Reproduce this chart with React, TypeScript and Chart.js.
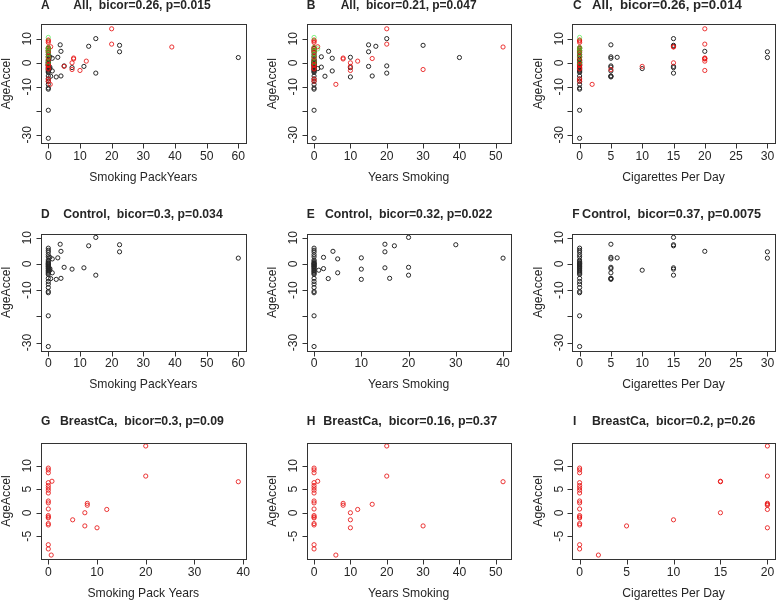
import React, { useEffect, useRef } from 'react';
import { Chart, registerables } from 'chart.js';

Chart.register(...registerables);

// ---------------- data ----------------
// Control group (smokers first, then never-smokers)
const controlPackYears = [15, 3.75, 22.5, 12.75, 22.5, 4, 60, 3, 0.5, 1.25, 5, 11.25, 0.5, 7.5, 0.5, 15, 4, 2.5, 0.75, 1.25,
  0, 0, 0, 0, 0, 0, 0, 0, 0, 0, 0, 0, 0, 0, 0, 0, 0, 0, 0, 0, 0, 0, 0, 0, 0, 0, 0, 0, 0, 0];
const controlYearsSmoking = [20, 15, 30, 17, 15, 4, 40, 10, 2, 5, 20, 15, 2, 10, 1, 20, 16, 10, 3, 5,
  0, 0, 0, 0, 0, 0, 0, 0, 0, 0, 0, 0, 0, 0, 0, 0, 0, 0, 0, 0, 0, 0, 0, 0, 0, 0, 0, 0, 0, 0];
const controlCigsPerDay = [15, 5, 15, 15, 30, 20, 30, 6, 5, 5, 5, 15, 5, 15, 10, 15, 5, 5, 5, 5,
  0, 0, 0, 0, 0, 0, 0, 0, 0, 0, 0, 0, 0, 0, 0, 0, 0, 0, 0, 0, 0, 0, 0, 0, 0, 0, 0, 0, 0, 0];
const controlAgeAccel = [10.1, 7.5, 7.3, 6.9, 4.6, 4.8, 2.2, 2.3, 2.5, 1.9, -1.3, -1.5, -1.8, -2.0, -2.4, -4.3, -5.5, -5.9, -5.6, -3.4,
  6.0, 5.2, 4.5, 3.5, 2.7, 1.5, 1.0, 0.5, 0.2, 0, -0.2, -0.5, -0.8, -1.0, -1.3, -1.7, -2.0, -2.5, -2.8, -3.2,
  -3.6, -4.0, -5.5, -6.7, -7.7, -9.0, -10.5, -11.0, -19.8, -31.5];

// Breast cancer group (null = value not available)
const breastPackYears = [0.75, 39, 0.6, 7.5, 7.5, 5, 10, 12, 20, 20, 8, 8, null,
  0, 0, 0, 0, 0, 0, 0, 0, 0, 0, 0, 0, 0, 0, 0, 0, 0, 0];
const breastYearsSmoking = [1, 52, 6, 30, 10, 10, 10, 12, 20, 20, 8, 8, 16,
  0, 0, 0, 0, 0, 0, 0, 0, 0, 0, 0, 0, 0, 0, 0, 0, 0, 0];
const breastCigsPerDay = [15, 15, 2, 5, 15, 10, 20, 20, 20, 20, 20, 20, 20,
  0, 0, 0, 0, 0, 0, 0, 0, 0, 0, 0, 0, 0, 0, 0, 0, 0, 0];
const breastAgeAccel = [6.7, 6.6, -9.0, -2.8, 0.0, -1.5, -3.2, 0.7, 14.2, 7.8, 2.0, 1.6, 1.8,
  9.5, 9.1, 8.5, 6.4, 5.8, 5.3, 4.8, 4.2, 2.5, 2.1, 0.8, -0.6, -0.9, -1.1, -2.3, -2.6, -6.8, -7.7];

// Third group (only in "All" panels)
const otherPackYears = [0, 0, 0, 0, 0, 0, 0];
const otherYearsSmoking = [0, 0, 0, 0, 0, 0, 1];
const otherCigsPerDay = [0, 0, 0, 0, 0, 0, 0];
const otherAgeAccel = [10.6, 6.4, 5.0, 3.6, 2.2, 0.1, 5.8];

// tick values
const packTicks60 = [0, 10, 20, 30, 40, 50, 60];
const packTicks40 = [0, 10, 20, 30, 40];
const yearsTicks50 = [0, 10, 20, 30, 40, 50];
const yearsTicks40 = [0, 10, 20, 30, 40];
const cigsTicks30 = [0, 5, 10, 15, 20, 25, 30];
const cigsTicks20 = [0, 5, 10, 15, 20];
const ageTicksWide = [-30, -20, -10, 0, 10];
const ageTicksNarrow = [-5, 0, 5, 10];

// ---------------- styles / layout ----------------
const FONT = '"Liberation Sans", Arial, Helvetica, sans-serif';
const AXIS_FONT_SIZE = 13.5;
const AXIS_FONT_SX = 0.9; // horizontal squeeze of axis text
const TEXT_COLOR = '#262626';
const AXIS_COLOR = '#333333';
const COL_CONTROL = '#262626';
const COL_BREAST = 'rgba(232,20,20,0.85)';
const COL_OTHER = 'rgba(40,230,40,0.55)';
const TICK_LEN = 5;

const colBox = [
  { left: 40.7, right: 245.9 },
  { left: 306.5, right: 510.6 },
  { left: 572.1, right: 776.3 },
];
const rowBox = [
  { top: 24, bottom: 143.3, titleY: 5.8 },
  { top: 234, bottom: 350.7, titleY: 214.5 },
  { top: 442.7, bottom: 559.3, titleY: 422 },
];

type Group = { pack: (number | null)[]; years: number[]; cigs: number[]; age: number[]; color: string };
const control: Group = { pack: controlPackYears, years: controlYearsSmoking, cigs: controlCigsPerDay, age: controlAgeAccel, color: COL_CONTROL };
const breast: Group = { pack: breastPackYears, years: breastYearsSmoking, cigs: breastCigsPerDay, age: breastAgeAccel, color: COL_BREAST };
const other: Group = { pack: otherPackYears, years: otherYearsSmoking, cigs: otherCigsPerDay, age: otherAgeAccel, color: COL_OTHER };

type Panel = {
  letter: string; title: string; textLeft: number; textRight: number; letterX: number;
  row: number; col: number; groups: Group[]; key: 'pack' | 'years' | 'cigs';
  xLabel: string; xMin: number; xMax: number; xTicks: number[];
  yMin: number; yMax: number; yTicks: number[];
};

const panels: Panel[] = [
  { letter: 'A', title: 'All,  bicor=0.26, p=0.015', letterX: 41, textLeft: 73.3, textRight: 210.7, row: 0, col: 0, groups: [other, breast, control], key: 'pack', xLabel: 'Smoking PackYears', xMin: -2.4, xMax: 62.4, xTicks: packTicks60, yMin: -33.6, yMax: 16.2, yTicks: ageTicksWide },
  { letter: 'B', title: 'All,  bicor=0.21, p=0.047', letterX: 306.7, textLeft: 340.7, textRight: 476.7, row: 0, col: 1, groups: [other, breast, control], key: 'years', xLabel: 'Years Smoking', xMin: -2.08, xMax: 54.08, xTicks: yearsTicks50, yMin: -33.6, yMax: 16.2, yTicks: ageTicksWide },
  { letter: 'C', title: 'All,  bicor=0.26, p=0.014', letterX: 573, textLeft: 592, textRight: 742, row: 0, col: 2, groups: [other, breast, control], key: 'cigs', xLabel: 'Cigarettes Per Day', xMin: -1.2, xMax: 31.2, xTicks: cigsTicks30, yMin: -33.6, yMax: 16.2, yTicks: ageTicksWide },
  { letter: 'D', title: 'Control,  bicor=0.3, p=0.034', letterX: 41, textLeft: 63.3, textRight: 222.7, row: 1, col: 0, groups: [control], key: 'pack', xLabel: 'Smoking PackYears', xMin: -2.4, xMax: 62.4, xTicks: packTicks60, yMin: -33.1, yMax: 11.4, yTicks: ageTicksWide },
  { letter: 'E', title: 'Control,  bicor=0.32, p=0.022', letterX: 306.7, textLeft: 325, textRight: 492.3, row: 1, col: 1, groups: [control], key: 'years', xLabel: 'Years Smoking', xMin: -1.6, xMax: 41.6, xTicks: yearsTicks40, yMin: -33.1, yMax: 11.4, yTicks: ageTicksWide },
  { letter: 'F', title: 'Control,  bicor=0.37, p=0.0075', letterX: 572.3, textLeft: 582, textRight: 761.3, row: 1, col: 2, groups: [control], key: 'cigs', xLabel: 'Cigarettes Per Day', xMin: -1.2, xMax: 31.2, xTicks: cigsTicks30, yMin: -33.1, yMax: 11.4, yTicks: ageTicksWide },
  { letter: 'G', title: 'BreastCa,  bicor=0.3, p=0.09', letterX: 41, textLeft: 60, textRight: 224, row: 2, col: 0, groups: [breast], key: 'pack', xLabel: 'Smoking Pack Years', xMin: -1.56, xMax: 40.56, xTicks: packTicks40, yMin: -9.9, yMax: 14.9, yTicks: ageTicksNarrow },
  { letter: 'H', title: 'BreastCa,  bicor=0.16, p=0.37', letterX: 306.7, textLeft: 323.3, textRight: 497.3, row: 2, col: 1, groups: [breast], key: 'years', xLabel: 'Years Smoking', xMin: -2.08, xMax: 54.08, xTicks: yearsTicks50, yMin: -9.9, yMax: 14.9, yTicks: ageTicksNarrow },
  { letter: 'I', title: 'BreastCa,  bicor=0.2, p=0.26', letterX: 573, textLeft: 592, textRight: 755.3, row: 2, col: 2, groups: [breast], key: 'cigs', xLabel: 'Cigarettes Per Day', xMin: -0.8, xMax: 20.8, xTicks: cigsTicks20, yMin: -9.9, yMax: 14.9, yTicks: ageTicksNarrow },
];

const W = 778;
const H = 601;

function points(g: Group, key: 'pack' | 'years' | 'cigs') {
  const xs = g[key] as (number | null)[];
  const out: { x: number; y: number }[] = [];
  for (let i = 0; i < xs.length; i++) {
    const x = xs[i];
    if (x === null || x === undefined) continue;
    out.push({ x, y: g.age[i] });
  }
  return out;
}

// draw centred text, squeezed horizontally along its own direction
function axisText(ctx: CanvasRenderingContext2D, s: string, x: number, y: number, rotated: boolean) {
  ctx.save();
  ctx.translate(x, y);
  if (rotated) ctx.rotate(-Math.PI / 2);
  ctx.scale(AXIS_FONT_SX, 1);
  ctx.fillText(s, 0, 0);
  ctx.restore();
}

function drawPanel(chart: any, p: Panel) {
  const ctx: CanvasRenderingContext2D = chart.ctx;
  const { left, right, top, bottom } = chart.chartArea;
  const xs = chart.scales.x;
  const ys = chart.scales.y;
  const L = Math.round(left) + 0.5;
  const R = Math.round(right) + 0.5;
  const T = Math.round(top) + 0.5;
  const B = Math.round(bottom) + 0.5;
  ctx.save();
  ctx.strokeStyle = AXIS_COLOR;
  ctx.lineWidth = 1;
  ctx.strokeRect(L, T, R - L, B - T);
  ctx.beginPath();
  for (const v of p.xTicks) {
    const px = Math.round(xs.getPixelForValue(v)) + 0.5;
    ctx.moveTo(px, B);
    ctx.lineTo(px, B + TICK_LEN);
  }
  for (const v of p.yTicks) {
    const py = Math.round(ys.getPixelForValue(v)) + 0.5;
    ctx.moveTo(L, py);
    ctx.lineTo(L - TICK_LEN, py);
  }
  ctx.stroke();

  ctx.fillStyle = TEXT_COLOR;
  ctx.font = `${AXIS_FONT_SIZE}px ${FONT}`;
  ctx.textAlign = 'center';
  ctx.textBaseline = 'middle';
  const gap = ctx.measureText('m').width * AXIS_FONT_SX;
  // x tick labels
  let lastRight = -Infinity;
  for (const v of p.xTicks) {
    const s = String(v);
    const w = ctx.measureText(s).width * AXIS_FONT_SX;
    const px = xs.getPixelForValue(v);
    if (px - w / 2 < lastRight + gap) continue;
    axisText(ctx, s, px, bottom + 13, false);
    lastRight = px + w / 2;
  }
  // y tick labels (parallel to axis), skipping overlapping ones like R
  let lastTop = Infinity;
  const ySorted = [...p.yTicks].sort((a, b) => a - b);
  for (const v of ySorted) {
    const s = String(v);
    const w = ctx.measureText(s).width * AXIS_FONT_SX;
    const py = ys.getPixelForValue(v);
    if (py + w / 2 > lastTop - gap) continue;
    axisText(ctx, s, left - 13, py, true);
    lastTop = py - w / 2;
  }
  // axis titles
  axisText(ctx, p.xLabel, (left + right) / 2, bottom + 34, false);
  axisText(ctx, 'AgeAccel', left - 34, (top + bottom) / 2, true);

  // panel title
  const ty = rowBox[p.row].titleY;
  ctx.textAlign = 'left';
  ctx.font = `bold 12px ${FONT}`;
  ctx.fillText(p.letter, p.letterX, ty);
  const w12 = ctx.measureText(p.title).width;
  const size = Math.max(10, Math.min(14, (12 * (p.textRight - p.textLeft)) / w12));
  ctx.font = `bold ${size.toFixed(2)}px ${FONT}`;
  ctx.fillText(p.title, p.textLeft, ty);
  ctx.restore();
}

function PanelChart({ p }: { p: Panel }) {
  const ref = useRef<HTMLCanvasElement>(null);
  useEffect(() => {
    const canvas = ref.current;
    if (!canvas) return;
    const cb = colBox[p.col];
    const rb = rowBox[p.row];
    const chart = new Chart(canvas, {
      type: 'scatter',
      data: {
        datasets: p.groups.map((g) => ({
          data: points(g, p.key),
          pointRadius: 2.1,
          pointHoverRadius: 2.1,
          pointBorderWidth: 1,
          pointBorderColor: g.color,
          pointBackgroundColor: 'rgba(0,0,0,0)',
          borderColor: g.color,
          backgroundColor: 'rgba(0,0,0,0)',
          showLine: false,
        })),
      },
      options: {
        animation: false,
        responsive: false,
        maintainAspectRatio: false,
        events: [],
        layout: {
          padding: { left: cb.left, right: W - cb.right, top: rb.top, bottom: H - rb.bottom },
        },
        plugins: {
          legend: { display: false },
          tooltip: { enabled: false },
          title: { display: false },
        },
        scales: {
          x: { type: 'linear', min: p.xMin, max: p.xMax, display: false },
          y: { type: 'linear', min: p.yMin, max: p.yMax, display: false },
        },
      },
      plugins: [{ id: 'rstyle' + p.letter, afterDraw: (c: any) => drawPanel(c, p) }],
    } as any);
    return () => chart.destroy();
  }, [p]);
  return (
    <canvas
      ref={ref}
      width={W}
      height={H}
      style={{ position: 'absolute', left: 0, top: 0, width: W, height: H }}
    />
  );
}

export default function App() {
  return (
    <div style={{ position: 'absolute', left: 0, top: 0, width: W, height: H, background: '#ffffff', overflow: 'hidden' }}>
      {panels.map((p) => (
        <PanelChart key={p.letter} p={p} />
      ))}
    </div>
  );
}
